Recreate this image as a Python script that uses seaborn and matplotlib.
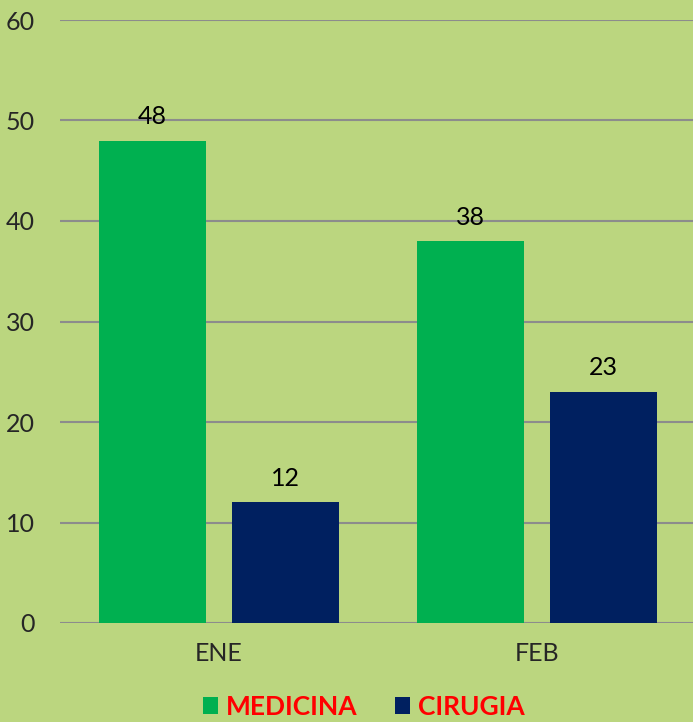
import numpy as np
import pandas as pd
import matplotlib
matplotlib.use("Agg")
import matplotlib.pyplot as plt
import seaborn as sns

# datos del grafico
meses = ["ENE", "FEB"]
servicios = ["MEDICINA", "CIRUGIA"]
medicina = [48, 38]
cirugia = [12, 23]

df = pd.DataFrame({
    "mes": meses * 2,
    "servicio": [servicios[0]] * 2 + [servicios[1]] * 2,
    "valor": medicina + cirugia,
})

sns.set_style("white")
plt.rcParams["font.family"] = ["Lato", "DejaVu Sans"]

fondo = "#BBD67F"
colores = {"MEDICINA": "#00B050", "CIRUGIA": "#002060"}

fig = plt.figure(figsize=(6.93, 7.22), dpi=100, facecolor=fondo)
ax = fig.add_axes([60 / 693, 1 - 623 / 722, 636 / 693, 603 / 722])
ax.set_facecolor(fondo)

sns.barplot(data=df, x="mes", y="valor", hue="servicio", order=meses,
            hue_order=servicios, palette=colores, width=0.836, gap=0.2,
            saturation=1, linewidth=0, edgecolor="none", ax=ax, zorder=3)

for c in ax.containers:
    ax.bar_label(c, padding=9, fontsize=18, color="black")

ax.set_ylim(0, 60)
ax.set_yticks(np.arange(0, 61, 10))
ax.set_xlim(-0.5, 1.5)
ax.grid(axis="y", color="#8C8C8C", linewidth=1.5, zorder=0)
ax.set_axisbelow(True)
for s in ax.spines.values():
    s.set_visible(False)
ax.tick_params(axis="both", length=0, labelsize=18)
ax.tick_params(axis="y", pad=18)
ax.tick_params(axis="x", pad=14)
ax.set_xlabel("")
ax.set_ylabel("")

ax.get_legend().remove()
handles, labels = ax.get_legend_handles_labels()
leg = fig.legend(handles, labels, loc="center", bbox_to_anchor=(364 / 693, 1 - 707 / 722),
                 ncol=2, frameon=False, handlelength=0.58, handleheight=0.58,
                 handletextpad=0.3, columnspacing=1.4, borderpad=0.2,
                 prop={"size": 19, "weight": "bold"})
for t in leg.get_texts():
    t.set_color("#FF0000")

fig.savefig("out.png", dpi=100, facecolor=fondo)
